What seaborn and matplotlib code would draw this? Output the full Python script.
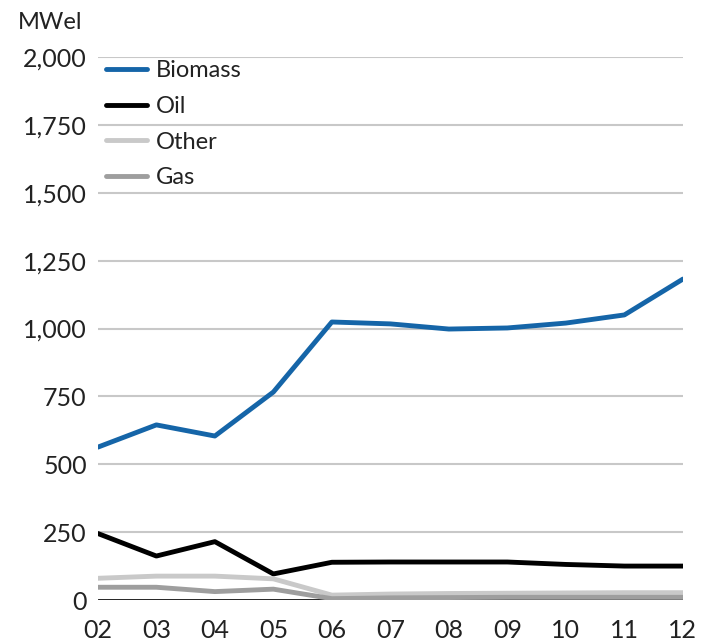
import matplotlib
matplotlib.use("Agg")
import matplotlib.pyplot as plt
import seaborn as sns
import pandas as pd

years = ["02", "03", "04", "05", "06", "07", "08", "09", "10", "11", "12"]
biomass = [563, 645, 604, 766, 1024, 1017, 998, 1002, 1020, 1050, 1182]
oil = [245, 162, 215, 96, 139, 140, 140, 140, 131, 125, 125]
other = [80, 88, 88, 78, 18, 22, 24, 25, 26, 27, 27]
gas = [47, 47, 31, 40, 5, 8, 9, 10, 10, 10, 10]
y_ticks = [0, 250, 500, 750, 1000, 1250, 1500, 1750, 2000]

series = {"Biomass": biomass, "Oil": oil, "Other": other, "Gas": gas}
colors = {"Biomass": "#1565a8", "Oil": "#000000", "Other": "#c9c9c9", "Gas": "#9e9e9e"}

rows = []
for name, vals in series.items():
    for i, v in enumerate(vals):
        rows.append({"x": i, "value": v, "series": name})
df = pd.DataFrame(rows)

sns.set_style("white")
plt.rcParams["font.family"] = ["Lato", "DejaVu Sans"]

fig = plt.figure(figsize=(7.04, 6.44), dpi=100)
ax = fig.add_axes([0.139, 0.0683, 0.831, 0.8432])

for y in y_ticks[1:]:
    ax.axhline(y, color="#c8c8c8", lw=1.5, zorder=0)

sns.lineplot(data=df, x="x", y="value", hue="series", palette=colors,
             hue_order=["Biomass", "Oil", "Other", "Gas"], ax=ax, lw=3.5,
             legend=True, zorder=3)

ax.axhline(0, color="#111111", lw=2, zorder=2)
ax.set_xlim(0, len(years) - 1)
ax.set_ylim(0, 2000)
ax.set_xticks(range(len(years)))
ax.set_xticklabels(years)
ax.set_yticks(y_ticks)
ax.set_yticklabels([f"{v:,}" for v in y_ticks])
ax.tick_params(axis="both", length=0, labelsize=18, colors="#222222")
ax.tick_params(axis="y", pad=8)
ax.tick_params(axis="x", pad=14)
for s in ax.spines.values():
    s.set_visible(False)
ax.set_xlabel("")
ax.set_ylabel("")
fig.text(0.025, 0.965, "MWel", fontsize=17, color="#222222", va="center", ha="left")

leg = ax.legend(loc="upper left", bbox_to_anchor=(-0.01, 1.02), frameon=False,
                fontsize=17, handlelength=1.75, handletextpad=0.35,
                labelspacing=0.62, borderaxespad=0.2)
for t in leg.get_texts():
    t.set_color("#222222")

fig.savefig("out.png", dpi=100)
